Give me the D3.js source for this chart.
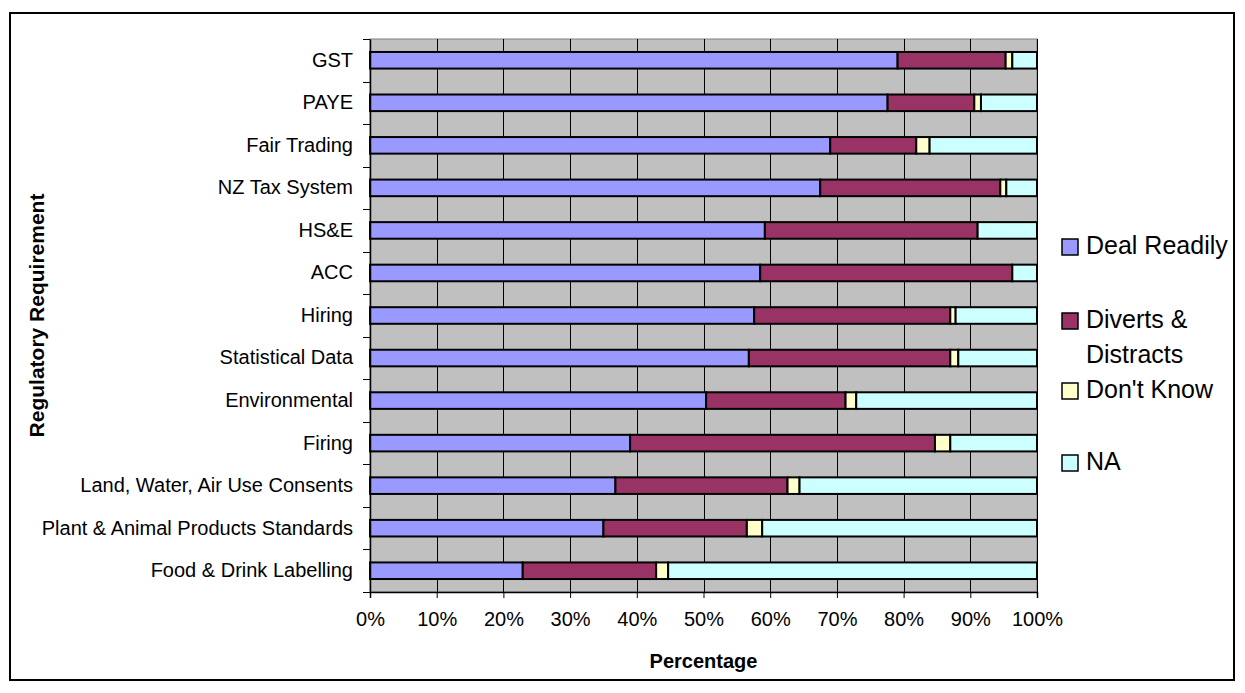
<!DOCTYPE html>
<html>
<head>
<meta charset="utf-8">
<script src="https://cdn.jsdelivr.net/npm/d3@7/dist/d3.min.js"></script>
<style>
  html, body { margin: 0; padding: 0; background: #fff; }
  svg { display: block; font-family: Arial, "Liberation Sans", sans-serif; }
</style>
</head>
<body>
<svg id="chart" width="1245" height="693"></svg>
<script>
// Regulatory requirements, top to bottom
const categories = [
  "GST", "PAYE", "Fair Trading", "NZ Tax System", "HS&E", "ACC", "Hiring",
  "Statistical Data", "Environmental", "Firing",
  "Land, Water, Air Use Consents", "Plant & Animal Products Standards",
  "Food & Drink Labelling"
];

// Share of responses (%) for each category, in the same order
const dealReadily      = [79.1, 77.6, 69.0, 67.5, 59.2, 58.5, 57.6, 56.8, 50.4, 39.0, 36.8, 35.0, 22.9];
const divertsDistracts = [16.2, 13.0, 12.9, 27.0, 31.9, 37.8, 29.4, 30.2, 20.9, 45.7, 25.8, 21.5, 20.0];
const dontKnow         = [ 1.0,  1.0,  2.0,  0.9,  0.0,  0.0,  0.8,  1.2,  1.6,  2.3,  1.8,  2.3,  1.8];
const notApplicable    = [ 3.7,  8.4, 16.1,  4.6,  8.9,  3.7, 12.2, 11.8, 27.1, 13.0, 35.6, 41.2, 55.3];

const seriesNames  = ["Deal Readily", "Diverts & Distracts", "Don't Know", "NA"];
const seriesLabels = [["Deal Readily"], ["Diverts &", "Distracts"], ["Don't Know"], ["NA"]];
const seriesColors = ["#9999FF", "#993366", "#FFFFCC", "#CCFFFF"];
const xTickValues  = [0, 10, 20, 30, 40, 50, 60, 70, 80, 90, 100];

const rows = categories.map((c, i) => ({
  category: c,
  "Deal Readily": dealReadily[i],
  "Diverts & Distracts": divertsDistracts[i],
  "Don't Know": dontKnow[i],
  "NA": notApplicable[i]
}));

const svg = d3.select("#chart");

// outer chart frame
svg.append("rect")
  .attr("x", 10).attr("y", 13).attr("width", 1224).attr("height", 667)
  .attr("fill", "#fff").attr("stroke", "#000").attr("stroke-width", 2);

const plot = { left: 370, right: 1037, top: 39, bottom: 592 };

const x = d3.scaleLinear().domain([0, 100]).range([plot.left, plot.right]);
const y = d3.scaleBand().domain(categories).range([plot.top, plot.bottom])
  .paddingInner(0.61).paddingOuter(0.305);

// plot background
svg.append("rect")
  .attr("x", plot.left).attr("y", plot.top)
  .attr("width", plot.right - plot.left).attr("height", plot.bottom - plot.top)
  .attr("fill", "#C0C0C0").attr("stroke", "#808080").attr("stroke-width", 1);

// vertical gridlines
svg.append("g")
  .selectAll("line")
  .data(xTickValues.slice(1))
  .join("line")
  .attr("x1", d => Math.round(x(d)) + 0.5).attr("x2", d => Math.round(x(d)) + 0.5)
  .attr("y1", plot.top).attr("y2", plot.bottom)
  .attr("stroke", "#000").attr("stroke-width", 1);

// stacked bars
const stack = d3.stack().keys(seriesNames);
const stacked = stack(rows);

svg.append("g")
  .selectAll("g")
  .data(stacked)
  .join("g")
  .attr("fill", (d, i) => seriesColors[i])
  .selectAll("rect")
  .data(d => d.filter(s => s[1] - s[0] > 0))
  .join("rect")
  .attr("x", d => x(d[0]))
  .attr("y", d => y(d.data.category))
  .attr("width", d => x(d[1]) - x(d[0]))
  .attr("height", y.bandwidth())
  .attr("stroke", "#000")
  .attr("stroke-width", 2);

// x axis
const xAxis = d3.axisBottom(x)
  .tickValues(xTickValues)
  .tickFormat(d => d + "%")
  .tickSize(6)
  .tickPadding(14);

const gx = svg.append("g")
  .attr("transform", `translate(0,${plot.bottom})`)
  .call(xAxis);
gx.select(".domain").attr("stroke", "#000").attr("stroke-width", 1.5);
gx.selectAll(".tick line").attr("stroke", "#000");
gx.selectAll(".tick text")
  .attr("font-size", 20).attr("fill", "#000")
  .attr("font-family", "Arial, 'Liberation Sans', sans-serif");

// y axis: labels at each band, ticks at band boundaries
const yAxis = d3.axisLeft(y).tickSize(0).tickPadding(17);
const gy = svg.append("g")
  .attr("transform", `translate(${plot.left},0)`)
  .call(yAxis);
gy.select(".domain").attr("stroke", "#000").attr("stroke-width", 1.5);
gy.selectAll(".tick text")
  .attr("font-size", 20).attr("fill", "#000")
  .attr("font-family", "Arial, 'Liberation Sans', sans-serif");

const boundaries = categories.map(c => y(c) - (y.step() - y.bandwidth()) / 2)
  .concat([plot.bottom]);
svg.append("g")
  .selectAll("line")
  .data(boundaries)
  .join("line")
  .attr("x1", plot.left - 7).attr("x2", plot.left)
  .attr("y1", d => Math.round(d) + 0.5).attr("y2", d => Math.round(d) + 0.5)
  .attr("stroke", "#000").attr("stroke-width", 1);

// axis titles
svg.append("text")
  .attr("x", (plot.left + plot.right) / 2).attr("y", 668)
  .attr("text-anchor", "middle")
  .attr("font-size", 20).attr("font-weight", "bold")
  .text("Percentage");

svg.append("text")
  .attr("transform", `translate(44,${(plot.top + plot.bottom) / 2}) rotate(-90)`)
  .attr("text-anchor", "middle")
  .attr("font-size", 21).attr("font-weight", "bold")
  .text("Regulatory Requirement");

// legend
const legendY = [246, 320, 390, 462];
const legend = svg.append("g");
seriesNames.forEach((name, i) => {
  legend.append("rect")
    .attr("x", 1062).attr("y", legendY[i] - 7)
    .attr("width", 16).attr("height", 16)
    .attr("fill", seriesColors[i]).attr("stroke", "#000").attr("stroke-width", 1.5);
  const t = legend.append("text")
    .attr("x", 1086).attr("y", legendY[i] + 8)
    .attr("font-size", 25);
  seriesLabels[i].forEach((line, j) => {
    t.append("tspan").attr("x", 1086).attr("dy", j === 0 ? 0 : 35).text(line);
  });
});
</script>
</body>
</html>
